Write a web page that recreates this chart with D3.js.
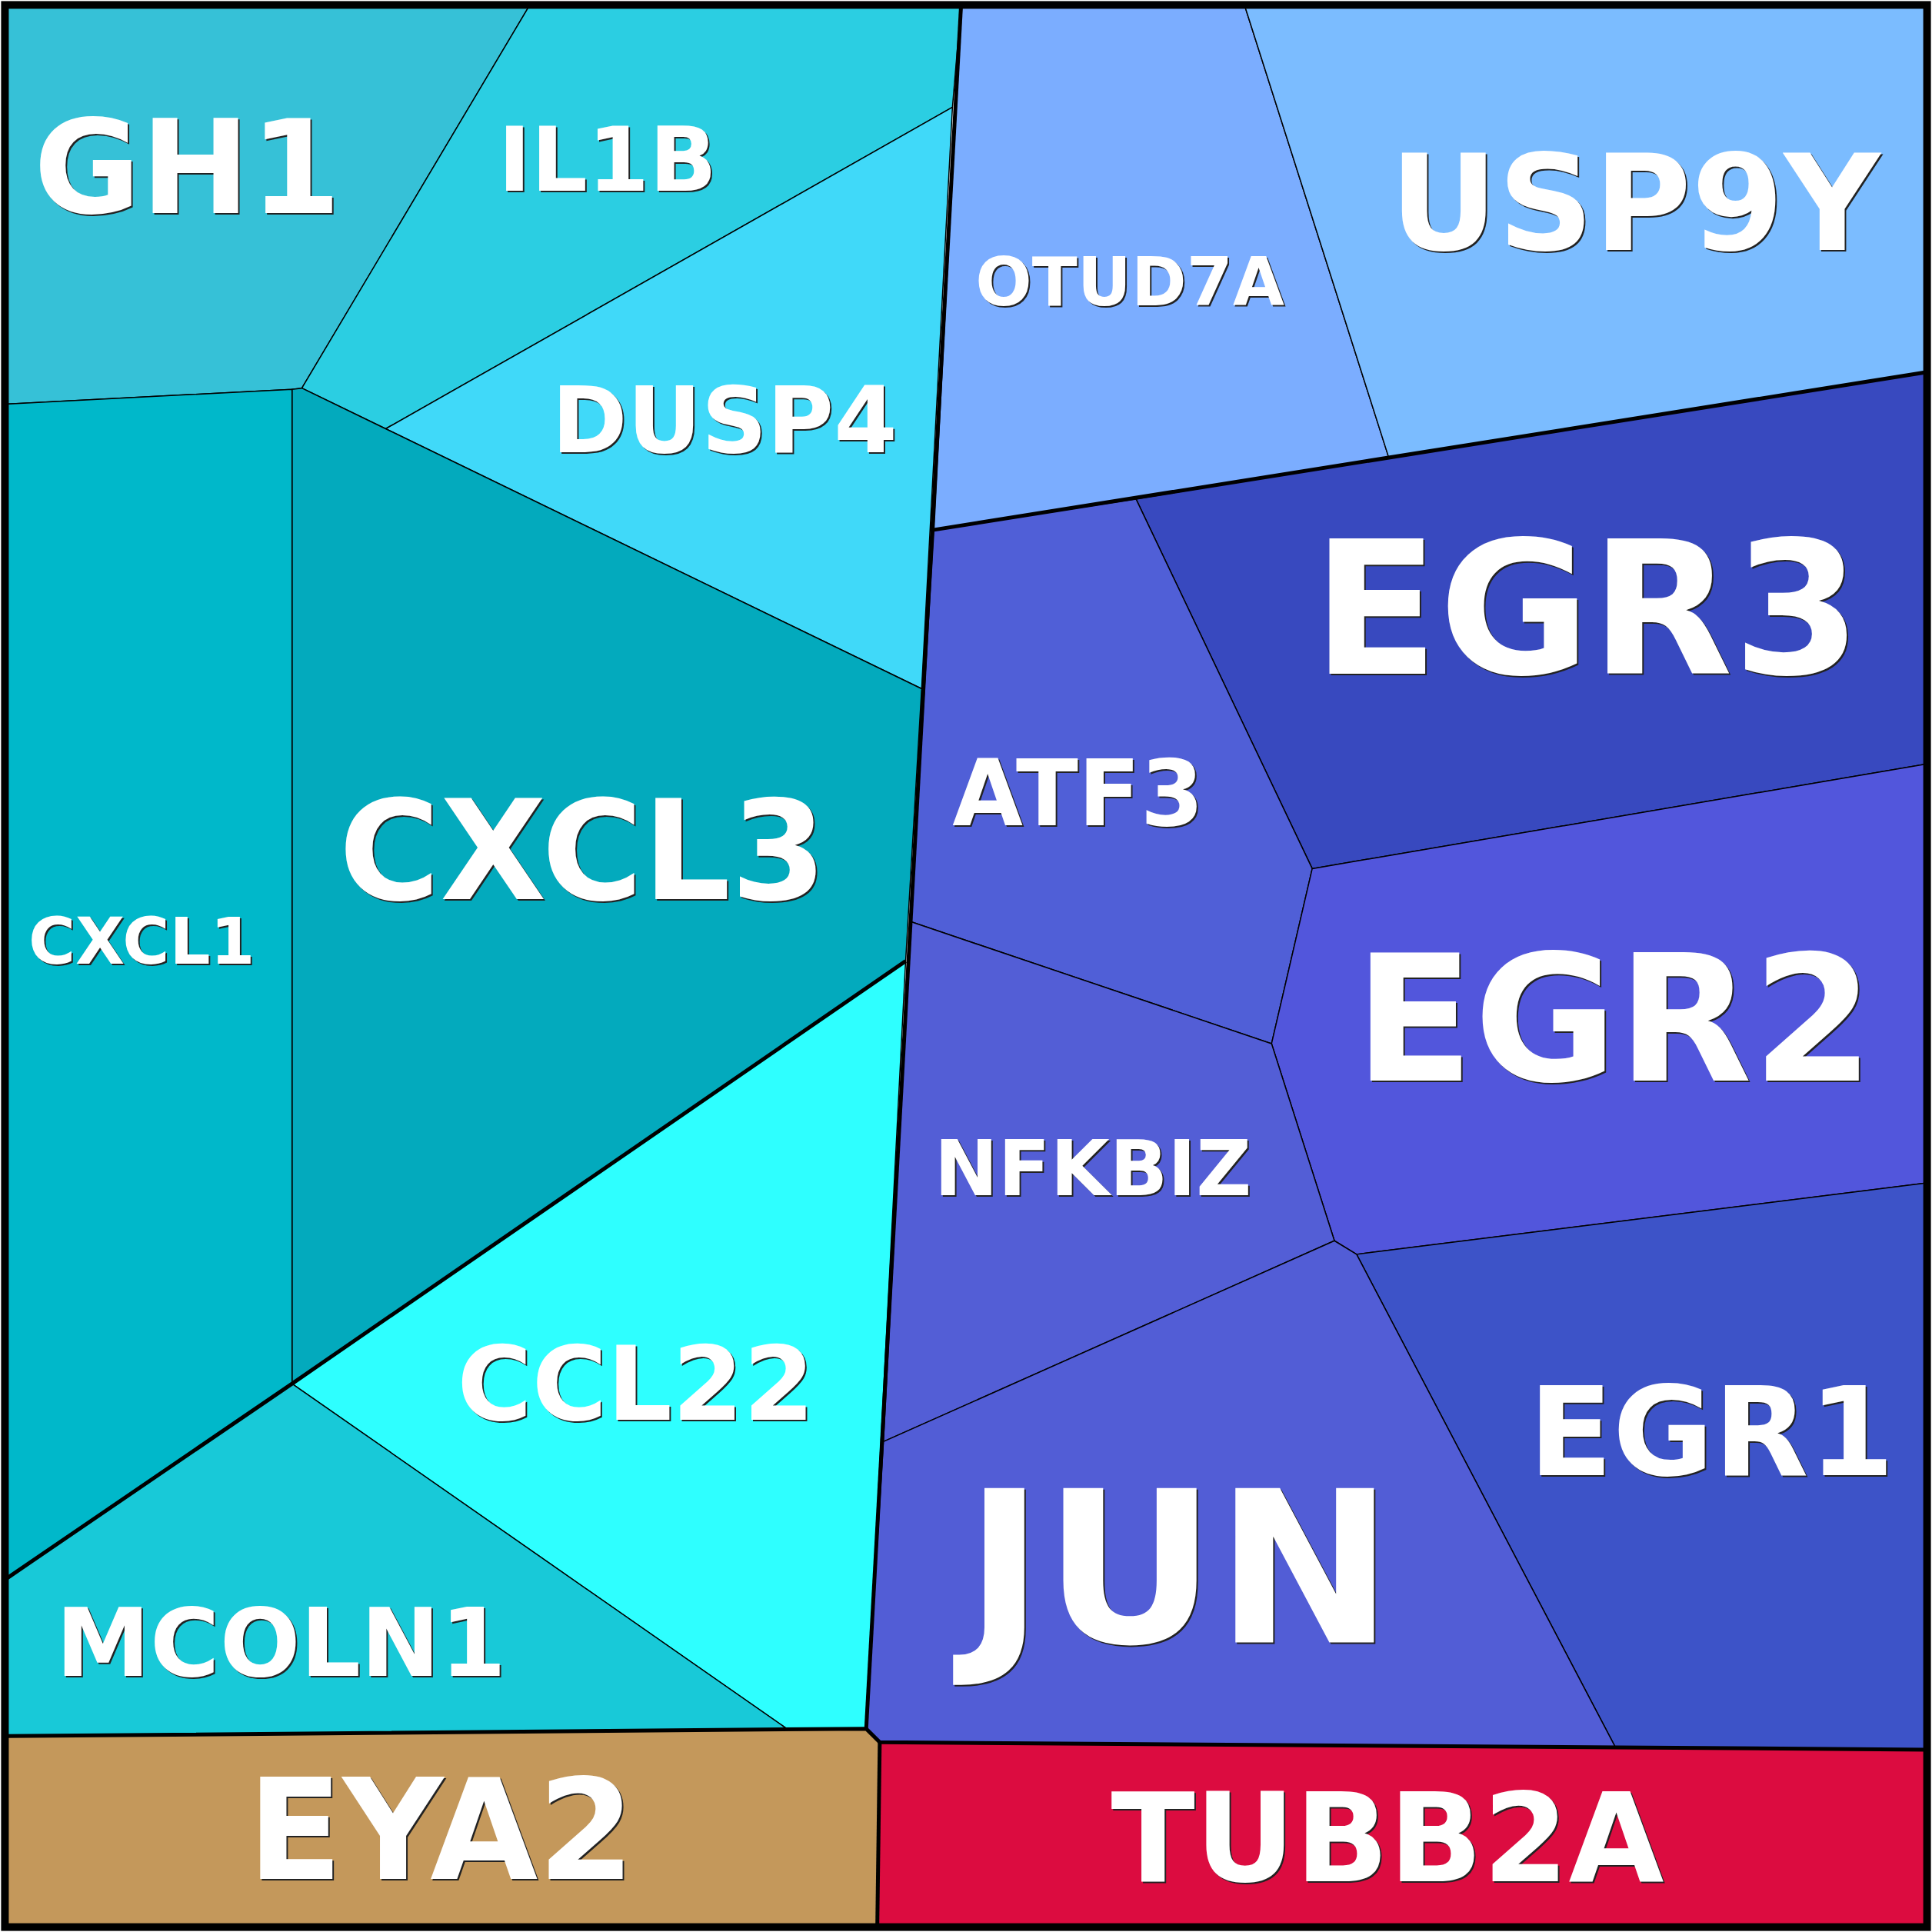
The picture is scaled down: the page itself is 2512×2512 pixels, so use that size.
<!DOCTYPE html>
<html>
<head>
<meta charset="utf-8">
<script src="https://cdn.jsdelivr.net/npm/d3@7"></script>
<style>
  body { margin: 0; background: #fff; }
  text { font-family: "DejaVu Sans", sans-serif; font-weight: bold; }
</style>
</head>
<body>
<svg id="chart" width="2512" height="2512"></svg>
<script>
// cell names, grouped in the hierarchy
const genes = ['GH1', 'IL1B', 'DUSP4', 'CXCL3', 'CXCL1', 'CCL22', 'MCOLN1',
  'OTUD7A', 'USP9Y', 'EGR3', 'ATF3', 'EGR2', 'NFKBIZ', 'EGR1', 'JUN', 'EYA2', 'TUBB2A'];
const groups = ['cyan', 'cyan', 'cyan', 'cyan', 'cyan', 'cyan', 'cyan',
  'blue', 'blue', 'blue', 'blue', 'blue', 'blue', 'blue', 'blue', 'EYA2', 'TUBB2A'];
const colors = ['#36c1d7', '#2bcee2', '#40d9f9', '#03aabd', '#00b8ca', '#2effff', '#18c9d8',
  '#7badff', '#7bbcff', '#3849bf', '#505fd7', '#5256dc', '#535ed6', '#3d53c8', '#525dd6', '#c4985b', '#dc0c40'];
// label size reflects the weight of each gene
const labelSizes = [106, 72, 74, 112, 52, 83, 77, 54, 108, 150, 74, 142, 62, 100, 172, 113, 100];

// Voronoi cell outlines, in a 1568-unit layout space
const cells = [
  [[4,4],[430,4],[245,315],[237,316],[4,328]],
  [[430,4],[780,4],[773,87],[313,348],[245,315]],
  [[773,87],[748,559],[313,348]],
  [[237,316],[245,315],[313,348],[748,559],[735,780],[237,1123]],
  [[4,328],[237,316],[237,1123],[4,1282]],
  [[237,1123],[735,780],[703,1403],[640,1404]],
  [[4,1282],[237,1123],[640,1404],[4,1409]],
  [[780,4],[1010,4],[1127,371],[922,405],[758,430]],
  [[1010,4],[1564,4],[1564,302],[1127,371]],
  [[922,405],[1127,371],[1564,302],[1564,620],[1065,705]],
  [[758,430],[922,405],[1065,705],[1032,847],[739,748]],
  [[1065,705],[1564,620],[1564,960],[1101,1018],[1083,1007],[1032,847]],
  [[739,748],[1032,847],[1083,1007],[717,1170]],
  [[1101,1018],[1564,960],[1564,1420],[1311,1418]],
  [[717,1170],[1083,1007],[1101,1018],[1311,1418],[714,1414],[703,1403]],
  [[4,1409],[703,1403],[714,1414],[712,1564],[4,1564]],
  [[714,1414],[1564,1420],[1564,1564],[712,1564]]
];
// label anchor points (centre x, baseline y)
const labelX = [152, 493, 588, 473, 115, 516, 228, 917, 1327, 1288, 875, 1310, 887, 1389, 957, 358, 1126];
const labelY = [173, 155, 367, 730, 782, 1152, 1360, 248, 203, 547, 670, 877, 970, 1197, 1333, 1525, 1527];

// group outlines drawn heavier
const groupEdges = [
  [[780,4],[703,1403]],
  [[4,1409],[703,1403],[714,1414],[1564,1420]],
  [[714,1414],[712,1564]],
  [[758,430],[1564,302]],
  [[735,780],[237,1123],[4,1282]]
];

const S = 2512 / 1568;
const sx = d3.scaleLinear().domain([0, 1568]).range([0, 2512]);
const sy = d3.scaleLinear().domain([0, 1568]).range([0, 2512]);
const line = d3.line().x(d => sx(d[0])).y(d => sy(d[1]));

const svg = d3.select('#chart');
const data = genes.map((g, i) => ({ gene: g, group: groups[i], color: colors[i], poly: cells[i],
  size: labelSizes[i], x: labelX[i], y: labelY[i] }));

svg.selectAll('path.cell')
  .data(data)
  .enter()
  .append('path')
  .attr('class', 'cell')
  .attr('d', d => line(d.poly) + 'Z')
  .attr('fill', d => d.color)
  .attr('stroke', '#000')
  .attr('stroke-width', 1.5)
  .attr('stroke-linejoin', 'round');

svg.selectAll('path.group')
  .data(groupEdges)
  .enter()
  .append('path')
  .attr('class', 'group')
  .attr('d', d => line(d))
  .attr('fill', 'none')
  .attr('stroke', '#000')
  .attr('stroke-width', 5);

svg.append('rect')
  .attr('x', sx(4)).attr('y', sy(4))
  .attr('width', sx(1560)).attr('height', sy(1560))
  .attr('fill', 'none')
  .attr('stroke', '#000')
  .attr('stroke-width', 10);

// labels: dark offset shadow, then white text
svg.selectAll('text.shadow')
  .data(data)
  .enter()
  .append('text')
  .attr('class', 'shadow')
  .attr('x', d => sx(d.x) + 2)
  .attr('y', d => sy(d.y) + 2)
  .attr('text-anchor', 'middle')
  .attr('font-size', d => d.size * S)
  .attr('fill', '#222')
  .text(d => d.gene);

svg.selectAll('text.label')
  .data(data)
  .enter()
  .append('text')
  .attr('class', 'label')
  .attr('x', d => sx(d.x))
  .attr('y', d => sy(d.y))
  .attr('text-anchor', 'middle')
  .attr('font-size', d => d.size * S)
  .attr('fill', '#fff')
  .text(d => d.gene);
</script>
</body>
</html>
